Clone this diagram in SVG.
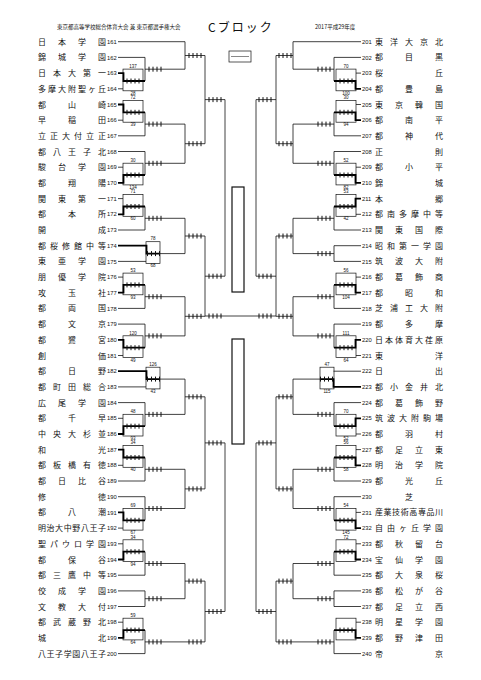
<svg xmlns="http://www.w3.org/2000/svg" xmlns:xlink="http://www.w3.org/1999/xlink" width="481" height="680" viewBox="0 0 481 680">
<style>
.t{font-family:"Noto Sans CJK JP","Noto Sans CJK SC",sans-serif;font-size:8px;text-anchor:middle;fill:#111}
.n{font-family:"Liberation Sans",sans-serif;font-size:5.8px;fill:#111}
.s{font-family:"Liberation Sans",sans-serif;font-size:4.5px;text-anchor:middle;fill:#111}
.h{font-family:"Noto Sans CJK JP",sans-serif;font-size:5.5px;fill:#111}
.l{fill:none;stroke:#111;stroke-width:0.8}
.w{fill:none;stroke:#000;stroke-width:1.8}
.b{fill:none;stroke:#111;stroke-width:0.7}
</style>
<defs>
<path id="k" d="M0-2.5v5M4-2.5v5M8-2.5v5M12-2.5v5" stroke="#111" stroke-width="1"/>
</defs>
<rect width="481" height="680" fill="#fff"/>
<g id="header">
<text class="h" x="57" y="29">東京都高等学校総合体育大会 兼 東京都選手権大会</text>
<text x="208" y="32" font-family="Noto Sans CJK JP,sans-serif" font-size="12" letter-spacing="2" fill="#111">Cブロック</text>
<text class="h" x="315" y="29">2017平成29年度</text>
</g>
<g id="legend">
<rect x="229" y="51" width="22" height="11" fill="none" stroke="#111" stroke-width="0.7"/>
<path d="M231 56.5H249" stroke="#111" stroke-width="0.5"/>
</g>
<g id="left-teams">
<g id="t161" transform="translate(0 41.7)"><text class="t" x="42 62 82 102" y="3">日本学園</text><text class="n" x="107" y="2.1">161</text></g>
<g id="t162" transform="translate(0 57.4)"><text class="t" x="42 62 82 102" y="3">錦城学園</text><text class="n" x="107" y="2.1">162</text></g>
<g id="t163" transform="translate(0 73.1)"><text class="t" x="42 57 72 87 102" y="3">日本大第一</text><text class="n" x="107" y="2.1">163</text></g>
<g id="t164" transform="translate(0 88.8)"><text class="t" x="42 52 62 72 82 92 102" y="3">多摩大附聖ヶ丘</text><text class="n" x="107" y="2.1">164</text></g>
<g id="t165" transform="translate(0 104.5)"><text class="t" x="42 72 102" y="3">都山崎</text><text class="n" x="107" y="2.1">165</text></g>
<g id="t166" transform="translate(0 120.2)"><text class="t" x="42 72 102" y="3">早稲田</text><text class="n" x="107" y="2.1">166</text></g>
<g id="t167" transform="translate(0 135.8)"><text class="t" x="42 54 66 78 90 102" y="3">立正大付立正</text><text class="n" x="107" y="2.1">167</text></g>
<g id="t168" transform="translate(0 151.5)"><text class="t" x="42 57 72 87 102" y="3">都八王子北</text><text class="n" x="107" y="2.1">168</text></g>
<g id="t169" transform="translate(0 167.2)"><text class="t" x="42 62 82 102" y="3">駿台学園</text><text class="n" x="107" y="2.1">169</text></g>
<g id="t170" transform="translate(0 182.9)"><text class="t" x="42 72 102" y="3">都翔陽</text><text class="n" x="107" y="2.1">170</text></g>
<g id="t171" transform="translate(0 198.6)"><text class="t" x="42 62 82 102" y="3">関東第一</text><text class="n" x="107" y="2.1">171</text></g>
<g id="t172" transform="translate(0 214.3)"><text class="t" x="42 72 102" y="3">都本所</text><text class="n" x="107" y="2.1">172</text></g>
<g id="t173" transform="translate(0 230)"><text class="t" x="42 102" y="3">開成</text><text class="n" x="107" y="2.1">173</text></g>
<g id="t174" transform="translate(0 245.7)"><text class="t" x="42 54 66 78 90 102" y="3">都桜修館中等</text><text class="n" x="107" y="2.1">174</text></g>
<g id="t175" transform="translate(0 261.4)"><text class="t" x="42 62 82 102" y="3">東亜学園</text><text class="n" x="107" y="2.1">175</text></g>
<g id="t176" transform="translate(0 277.1)"><text class="t" x="42 62 82 102" y="3">朋優学院</text><text class="n" x="107" y="2.1">176</text></g>
<g id="t177" transform="translate(0 292.7)"><text class="t" x="42 72 102" y="3">攻玉社</text><text class="n" x="107" y="2.1">177</text></g>
<g id="t178" transform="translate(0 308.4)"><text class="t" x="42 72 102" y="3">都両国</text><text class="n" x="107" y="2.1">178</text></g>
<g id="t179" transform="translate(0 324.1)"><text class="t" x="42 72 102" y="3">都文京</text><text class="n" x="107" y="2.1">179</text></g>
<g id="t180" transform="translate(0 339.8)"><text class="t" x="42 72 102" y="3">都鷺宮</text><text class="n" x="107" y="2.1">180</text></g>
<g id="t181" transform="translate(0 355.5)"><text class="t" x="42 102" y="3">創価</text><text class="n" x="107" y="2.1">181</text></g>
<g id="t182" transform="translate(0 371.2)"><text class="t" x="42 72 102" y="3">都日野</text><text class="n" x="107" y="2.1">182</text></g>
<g id="t183" transform="translate(0 386.9)"><text class="t" x="42 57 72 87 102" y="3">都町田総合</text><text class="n" x="107" y="2.1">183</text></g>
<g id="t184" transform="translate(0 402.6)"><text class="t" x="42 62 82 102" y="3">広尾学園</text><text class="n" x="107" y="2.1">184</text></g>
<g id="t185" transform="translate(0 418.3)"><text class="t" x="42 72 102" y="3">都千早</text><text class="n" x="107" y="2.1">185</text></g>
<g id="t186" transform="translate(0 434)"><text class="t" x="42 57 72 87 102" y="3">中央大杉並</text><text class="n" x="107" y="2.1">186</text></g>
<g id="t187" transform="translate(0 449.6)"><text class="t" x="42 102" y="3">和光</text><text class="n" x="107" y="2.1">187</text></g>
<g id="t188" transform="translate(0 465.3)"><text class="t" x="42 57 72 87 102" y="3">都板橋有徳</text><text class="n" x="107" y="2.1">188</text></g>
<g id="t189" transform="translate(0 481)"><text class="t" x="42 62 82 102" y="3">都日比谷</text><text class="n" x="107" y="2.1">189</text></g>
<g id="t190" transform="translate(0 496.7)"><text class="t" x="42 102" y="3">修徳</text><text class="n" x="107" y="2.1">190</text></g>
<g id="t191" transform="translate(0 512.4)"><text class="t" x="42 72 102" y="3">都八潮</text><text class="n" x="107" y="2.1">191</text></g>
<g id="t192" transform="translate(0 528.1)"><text class="t" x="42 50.6 59.1 67.7 76.3 84.9 93.4 102" y="3">明治大中野八王子</text><text class="n" x="107" y="2.1">192</text></g>
<g id="t193" transform="translate(0 543.8)"><text class="t" x="42 54 66 78 90 102" y="3">聖パウロ学園</text><text class="n" x="107" y="2.1">193</text></g>
<g id="t194" transform="translate(0 559.5)"><text class="t" x="42 72 102" y="3">都保谷</text><text class="n" x="107" y="2.1">194</text></g>
<g id="t195" transform="translate(0 575.2)"><text class="t" x="42 57 72 87 102" y="3">都三鷹中等</text><text class="n" x="107" y="2.1">195</text></g>
<g id="t196" transform="translate(0 590.9)"><text class="t" x="42 62 82 102" y="3">佼成学園</text><text class="n" x="107" y="2.1">196</text></g>
<g id="t197" transform="translate(0 606.5)"><text class="t" x="42 62 82 102" y="3">文教大付</text><text class="n" x="107" y="2.1">197</text></g>
<g id="t198" transform="translate(0 622.2)"><text class="t" x="42 57 72 87 102" y="3">都武蔵野北</text><text class="n" x="107" y="2.1">198</text></g>
<g id="t199" transform="translate(0 637.9)"><text class="t" x="42 102" y="3">城北</text><text class="n" x="107" y="2.1">199</text></g>
<g id="t200" transform="translate(0 653.6)"><text class="t" x="42 50.6 59.1 67.7 76.3 84.9 93.4 102" y="3">八王子学園八王子</text><text class="n" x="107" y="2.1">200</text></g>
</g>
<g id="right-teams">
<g id="t201" transform="translate(0 41.7)"><text class="n" x="362" y="2.1">201</text><text class="t" x="379 394 409 424 439" y="3">東洋大京北</text></g>
<g id="t202" transform="translate(0 57.4)"><text class="n" x="362" y="2.1">202</text><text class="t" x="379 409 439" y="3">都目黒</text></g>
<g id="t203" transform="translate(0 73.1)"><text class="n" x="362" y="2.1">203</text><text class="t" x="379 439" y="3">桜丘</text></g>
<g id="t204" transform="translate(0 88.8)"><text class="n" x="362" y="2.1">204</text><text class="t" x="379 409 439" y="3">都豊島</text></g>
<g id="t205" transform="translate(0 104.5)"><text class="n" x="362" y="2.1">205</text><text class="t" x="379 399 419 439" y="3">東京韓国</text></g>
<g id="t206" transform="translate(0 120.2)"><text class="n" x="362" y="2.1">206</text><text class="t" x="379 409 439" y="3">都南平</text></g>
<g id="t207" transform="translate(0 135.8)"><text class="n" x="362" y="2.1">207</text><text class="t" x="379 409 439" y="3">都神代</text></g>
<g id="t208" transform="translate(0 151.5)"><text class="n" x="362" y="2.1">208</text><text class="t" x="379 439" y="3">正則</text></g>
<g id="t209" transform="translate(0 167.2)"><text class="n" x="362" y="2.1">209</text><text class="t" x="379 409 439" y="3">都小平</text></g>
<g id="t210" transform="translate(0 182.9)"><text class="n" x="362" y="2.1">210</text><text class="t" x="379 439" y="3">錦城</text></g>
<g id="t211" transform="translate(0 198.6)"><text class="n" x="362" y="2.1">211</text><text class="t" x="379 439" y="3">本郷</text></g>
<g id="t212" transform="translate(0 214.3)"><text class="n" x="362" y="2.1">212</text><text class="t" x="379 391 403 415 427 439" y="3">都南多摩中等</text></g>
<g id="t213" transform="translate(0 230)"><text class="n" x="362" y="2.1">213</text><text class="t" x="379 399 419 439" y="3">関東国際</text></g>
<g id="t214" transform="translate(0 245.7)"><text class="n" x="362" y="2.1">214</text><text class="t" x="379 391 403 415 427 439" y="3">昭和第一学園</text></g>
<g id="t215" transform="translate(0 261.4)"><text class="n" x="362" y="2.1">215</text><text class="t" x="379 399 419 439" y="3">筑波大附</text></g>
<g id="t216" transform="translate(0 277.1)"><text class="n" x="362" y="2.1">216</text><text class="t" x="379 399 419 439" y="3">都葛飾商</text></g>
<g id="t217" transform="translate(0 292.7)"><text class="n" x="362" y="2.1">217</text><text class="t" x="379 409 439" y="3">都昭和</text></g>
<g id="t218" transform="translate(0 308.4)"><text class="n" x="362" y="2.1">218</text><text class="t" x="379 394 409 424 439" y="3">芝浦工大附</text></g>
<g id="t219" transform="translate(0 324.1)"><text class="n" x="362" y="2.1">219</text><text class="t" x="379 409 439" y="3">都多摩</text></g>
<g id="t220" transform="translate(0 339.8)"><text class="n" x="362" y="2.1">220</text><text class="t" x="379 389 399 409 419 429 439" y="3">日本体育大荏原</text></g>
<g id="t221" transform="translate(0 355.5)"><text class="n" x="362" y="2.1">221</text><text class="t" x="379 439" y="3">東洋</text></g>
<g id="t222" transform="translate(0 371.2)"><text class="n" x="362" y="2.1">222</text><text class="t" x="379 439" y="3">日出</text></g>
<g id="t223" transform="translate(0 386.9)"><text class="n" x="362" y="2.1">223</text><text class="t" x="379 394 409 424 439" y="3">都小金井北</text></g>
<g id="t224" transform="translate(0 402.6)"><text class="n" x="362" y="2.1">224</text><text class="t" x="379 399 419 439" y="3">都葛飾野</text></g>
<g id="t225" transform="translate(0 418.3)"><text class="n" x="362" y="2.1">225</text><text class="t" x="379 391 403 415 427 439" y="3">筑波大附駒場</text></g>
<g id="t226" transform="translate(0 434)"><text class="n" x="362" y="2.1">226</text><text class="t" x="379 409 439" y="3">都羽村</text></g>
<g id="t227" transform="translate(0 449.6)"><text class="n" x="362" y="2.1">227</text><text class="t" x="379 399 419 439" y="3">都足立東</text></g>
<g id="t228" transform="translate(0 465.3)"><text class="n" x="362" y="2.1">228</text><text class="t" x="379 399 419 439" y="3">明治学院</text></g>
<g id="t229" transform="translate(0 481)"><text class="n" x="362" y="2.1">229</text><text class="t" x="379 409 439" y="3">都光丘</text></g>
<g id="t230" transform="translate(0 496.7)"><text class="n" x="362" y="2.1">230</text><text class="t" x="409" y="3">芝</text></g>
<g id="t231" transform="translate(0 512.4)"><text class="n" x="362" y="2.1">231</text><text class="t" x="379 387.6 396.1 404.7 413.3 421.9 430.4 439" y="3">産業技術高専品川</text></g>
<g id="t232" transform="translate(0 528.1)"><text class="n" x="362" y="2.1">232</text><text class="t" x="379 391 403 415 427 439" y="3">自由ヶ丘学園</text></g>
<g id="t233" transform="translate(0 543.8)"><text class="n" x="362" y="2.1">233</text><text class="t" x="379 399 419 439" y="3">都秋留台</text></g>
<g id="t234" transform="translate(0 559.5)"><text class="n" x="362" y="2.1">234</text><text class="t" x="379 399 419 439" y="3">宝仙学園</text></g>
<g id="t235" transform="translate(0 575.2)"><text class="n" x="362" y="2.1">235</text><text class="t" x="379 399 419 439" y="3">都大泉桜</text></g>
<g id="t236" transform="translate(0 590.9)"><text class="n" x="362" y="2.1">236</text><text class="t" x="379 399 419 439" y="3">都松が谷</text></g>
<g id="t237" transform="translate(0 606.5)"><text class="n" x="362" y="2.1">237</text><text class="t" x="379 399 419 439" y="3">都足立西</text></g>
<g id="t238" transform="translate(0 622.2)"><text class="n" x="362" y="2.1">238</text><text class="t" x="379 399 419 439" y="3">明星学園</text></g>
<g id="t239" transform="translate(0 637.9)"><text class="n" x="362" y="2.1">239</text><text class="t" x="379 399 419 439" y="3">都野津田</text></g>
<g id="t240" transform="translate(0 653.6)"><text class="n" x="362" y="2.1">240</text><text class="t" x="379 439" y="3">帝京</text></g>
</g>
<g id="connectors">
<g id="left-lines" class="l">
<path d="M118 41.7H185M118 57.4H145M118 88.8H123M118 120.2H123M118 167.2H123M118 198.6H123M118 277.1H123M118 355.5H123M118 418.3H123M118 465.3H123M118 528.1H123M118 543.8H123M118 622.2H123"/>
<path d="M118 135.8H145M118 151.5H145M118 230H145M118 261.4H146M118 308.4H145M118 324.1H145M118 386.9H146M118 402.6H145M118 481H145M118 496.7H145M118 575.2H145M118 590.9H145M118 606.5H145M118 653.6H145"/>
<path d="M145 57.4V81M145 112.3V135.8M145 151.5V175M145 206.5V230M145 284.9V308.4M145 324.1V347.7M145 402.6V426.2M145 457.5V481M145 496.7V520.3M145 551.7V575.2M145 590.9V606.5M145 630.1V653.6"/>
<path d="M145 69.2H185M145 124.1H185M145 163.3H185M145 218.3H185M160 253.6H185M145 296.7H185M145 335.9H185M160 379.1H185M145 414.4H185M145 469.3H185M145 508.5H185M145 563.5H185M145 598.7H185M145 641.9H205"/>
<path d="M185 41.7V69.2M185 124.1V163.3M185 218.3V253.6M185 296.7V335.9M185 379.1V414.4M185 469.3V508.5M185 563.5V598.7"/>
<path d="M185 55.5H205M185 143.7H205M185 236H205M185 316.3H205M185 396.8H205M185 488.9H205M185 581.1H205"/>
<path d="M205 55.5V143.7M205 236V316.3M205 396.8V488.9M205 581.1V641.9M205 99.6H225M205 276.2H225M205 442.9H225M205 611.5H225M225 99.6V276.2M225 442.9V611.5"/>
</g>
<g id="right-lines" class="l">
<path d="M361 41.7H293M361 57.4H334M361 73.1H356M361 104.5H356M361 167.2H356M361 214.3H356M361 277.1H356M361 355.5H356M361 434H356M361 449.6H356M361 512.4H356M361 543.8H356M361 622.2H356"/>
<path d="M361 135.8H334M361 151.5H334M361 230H334M361 245.7H334M361 261.4H334M361 308.4H334M361 324.1H334M361 371.2H333.5M361 402.6H334M361 481H334M361 496.7H334M361 575.2H334M361 590.9H334M361 606.5H334M361 653.6H334"/>
<path d="M334 57.4V81M334 112.3V135.8M334 151.5V175M334 206.5V230M334 245.7V261.4M334 284.9V308.4M334 324.1V347.7M334 402.6V426.2M334 457.5V481M334 496.7V520.3M334 551.7V575.2M334 590.9V606.5M334 630.1V653.6"/>
<path d="M334 69.2H293M334 124.1H293M334 163.3H293M334 218.3H293M334 253.6H293M334 296.7H293M334 335.9H293M320 379.1H293M334 414.4H293M334 469.3H293M334 508.5H293M334 563.5H293M334 598.7H293M334 641.9H276"/>
<path d="M293 41.7V69.2M293 124.1V163.3M293 218.3V253.6M293 296.7V335.9M293 379.1V414.4M293 469.3V508.5M293 563.5V598.7"/>
<path d="M293 55.5H276M293 143.7H276M293 236H276M293 316.3H276M293 396.8H276M293 488.9H276M293 581.1H276"/>
<path d="M276 55.5V143.7M276 236V316.3M276 396.8V488.9M276 581.1V641.9M276 99.6H256M276 276.2H256M276 442.9H256M276 611.5H256M256 99.6V276.2M256 442.9V611.5"/>
</g>
<g id="boxes" class="b">
<rect x="123" y="69.1" width="20" height="21.7"/><rect x="123" y="100.5" width="20" height="21.7"/><rect x="123" y="163.2" width="20" height="21.7"/><rect x="123" y="194.6" width="20" height="21.7"/><rect x="123" y="273.1" width="20" height="21.7"/><rect x="123" y="335.8" width="20" height="21.7"/><rect x="123" y="414.3" width="20" height="21.7"/><rect x="123" y="445.6" width="20" height="21.7"/><rect x="123" y="508.4" width="20" height="21.7"/><rect x="123" y="539.8" width="20" height="21.7"/><rect x="123" y="618.2" width="20" height="21.7"/>
<rect x="146" y="241.7" width="14" height="21.7"/><rect x="146" y="367.2" width="14" height="21.7"/>
<rect x="336" y="69.1" width="20" height="21.7"/><rect x="336" y="100.5" width="20" height="21.7"/><rect x="336" y="163.2" width="20" height="21.7"/><rect x="336" y="194.6" width="20" height="21.7"/><rect x="336" y="273.1" width="20" height="21.7"/><rect x="336" y="335.8" width="20" height="21.7"/><rect x="336" y="414.3" width="20" height="21.7"/><rect x="336" y="445.6" width="20" height="21.7"/><rect x="336" y="508.4" width="20" height="21.7"/><rect x="336" y="539.8" width="20" height="21.7"/><rect x="336" y="618.2" width="20" height="21.7"/>
<rect x="320" y="367.2" width="14" height="21.7"/>
</g>
<g id="winners" class="w">
<path d="M118 73.1H123.5V81H145M118 104.5H123.5V112.3H145M118 182.9H123.5V175H145M118 214.3H123.5V206.5H145M118 292.7H123.5V284.9H145M118 339.8H123.5V347.7H145M118 434H123.5V426.2H145M118 449.6H123.5V457.5H145M118 512.4H123.5V520.3H145M118 559.5H123.5V551.7H145M118 637.9H123.5V630.1H145"/>
<path d="M118 245.7H146.5V253.6H160M118 371.2H146.5V379.1H160"/>
<path d="M361 88.8H355.5V81H334M361 120.2H355.5V112.3H334M361 182.9H355.5V175H334M361 198.6H355.5V206.5H334M361 292.7H355.5V284.9H334M361 339.8H355.5V347.7H334M361 418.3H355.5V426.2H334M361 465.3H355.5V457.5H334M361 528.1H355.5V520.3H334M361 559.5H355.5V551.7H334M361 637.9H355.5V630.1H334"/>
<path d="M361 386.9H333.5V379.1H320"/>
</g>
<g id="ticks">
<use href="#k" x="127" y="81"/><use href="#k" x="127" y="112.3"/><use href="#k" x="127" y="175"/><use href="#k" x="127" y="206.5"/><use href="#k" x="127" y="284.9"/><use href="#k" x="127" y="347.7"/><use href="#k" x="127" y="426.2"/><use href="#k" x="127" y="457.5"/><use href="#k" x="127" y="520.3"/><use href="#k" x="127" y="551.7"/><use href="#k" x="127" y="630.1"/>
<use href="#k" x="340" y="81"/><use href="#k" x="340" y="112.3"/><use href="#k" x="340" y="175"/><use href="#k" x="340" y="206.5"/><use href="#k" x="340" y="284.9"/><use href="#k" x="340" y="347.7"/><use href="#k" x="340" y="426.2"/><use href="#k" x="340" y="457.5"/><use href="#k" x="340" y="520.3"/><use href="#k" x="340" y="551.7"/><use href="#k" x="340" y="630.1"/>
<use href="#k" x="149" y="69.2"/><use href="#k" x="149" y="124.1"/><use href="#k" x="149" y="163.3"/><use href="#k" x="149" y="218.3"/><use href="#k" x="147.5" y="253.6"/><use href="#k" x="149" y="296.7"/><use href="#k" x="149" y="335.9"/><use href="#k" x="147.5" y="379.1"/><use href="#k" x="149" y="414.4"/><use href="#k" x="149" y="469.3"/><use href="#k" x="149" y="508.5"/><use href="#k" x="149" y="563.5"/><use href="#k" x="149" y="598.7"/><use href="#k" x="149" y="641.9"/>
<use href="#k" x="318" y="69.2"/><use href="#k" x="318" y="124.1"/><use href="#k" x="318" y="163.3"/><use href="#k" x="318" y="218.3"/><use href="#k" x="318" y="253.6"/><use href="#k" x="318" y="296.7"/><use href="#k" x="318" y="335.9"/><use href="#k" x="320.5" y="379.1"/><use href="#k" x="318" y="414.4"/><use href="#k" x="318" y="469.3"/><use href="#k" x="318" y="508.5"/><use href="#k" x="318" y="563.5"/><use href="#k" x="318" y="598.7"/><use href="#k" x="318" y="641.9"/>
<use href="#k" x="189" y="55.5"/><use href="#k" x="189" y="143.7"/><use href="#k" x="189" y="236"/><use href="#k" x="189" y="316.3"/><use href="#k" x="189" y="396.8"/><use href="#k" x="189" y="488.9"/><use href="#k" x="189" y="581.1"/><use href="#k" x="189" y="641.9"/>
<use href="#k" x="279" y="55.5"/><use href="#k" x="279" y="143.7"/><use href="#k" x="279" y="236"/><use href="#k" x="279" y="316.3"/><use href="#k" x="279" y="396.8"/><use href="#k" x="279" y="488.9"/><use href="#k" x="279" y="581.1"/><use href="#k" x="279" y="641.9"/>
<use href="#k" x="209" y="99.6"/><use href="#k" x="209" y="276.2"/><use href="#k" x="209" y="442.9"/><use href="#k" x="209" y="611.5"/>
<use href="#k" x="259" y="99.6"/><use href="#k" x="259" y="276.2"/><use href="#k" x="259" y="442.9"/><use href="#k" x="259" y="611.5"/>
<use href="#k" x="209" y="316"/><use href="#k" x="259" y="316"/>
</g>
<path class="l" d="M205 316H276"/>
</g>
<g id="scores">
<text class="s" x="133" y="67.8">137</text><text class="s" x="133" y="94.8">28</text>
<text class="s" x="133" y="99.2">72</text><text class="s" x="133" y="126.2">39</text>
<text class="s" x="133" y="161.9">30</text><text class="s" x="133" y="188.9">134</text>
<text class="s" x="133" y="193.3">71</text><text class="s" x="133" y="220.3">60</text>
<text class="s" x="133" y="271.8">53</text><text class="s" x="133" y="298.7">93</text>
<text class="s" x="133" y="334.5">120</text><text class="s" x="133" y="361.5">49</text>
<text class="s" x="133" y="413">48</text><text class="s" x="133" y="440">93</text>
<text class="s" x="133" y="444.3">34</text><text class="s" x="133" y="471.3">40</text>
<text class="s" x="133" y="507.1">69</text><text class="s" x="133" y="534.1">67</text>
<text class="s" x="133" y="538.5">34</text><text class="s" x="133" y="565.5">94</text>
<text class="s" x="133" y="616.9">59</text><text class="s" x="133" y="643.9">64</text>
<text class="s" x="153" y="240.4">78</text><text class="s" x="153" y="267.4">68</text>
<text class="s" x="153" y="365.9">126</text><text class="s" x="153" y="392.9">43</text>
<text class="s" x="346" y="67.8">70</text><text class="s" x="346" y="94.8">100</text>
<text class="s" x="346" y="99.2">30</text><text class="s" x="346" y="126.2">94</text>
<text class="s" x="346" y="161.9">52</text><text class="s" x="346" y="188.9">82</text>
<text class="s" x="346" y="193.3">53</text><text class="s" x="346" y="220.3">42</text>
<text class="s" x="346" y="271.8">56</text><text class="s" x="346" y="298.7">104</text>
<text class="s" x="346" y="334.5">111</text><text class="s" x="346" y="361.5">64</text>
<text class="s" x="346" y="413">70</text><text class="s" x="346" y="440">52</text>
<text class="s" x="346" y="444.3">56</text><text class="s" x="346" y="471.3">58</text>
<text class="s" x="346" y="507.1">54</text><text class="s" x="346" y="534.1">145</text>
<text class="s" x="346" y="538.5">72</text>
<text class="s" x="327" y="365.9">47</text><text class="s" x="327" y="392.9">115</text>
</g>
<g id="center">
<rect x="232" y="187" width="12" height="105" fill="none" stroke="#111" stroke-width="1.2"/>
<rect x="232" y="339" width="12" height="105" fill="none" stroke="#111" stroke-width="1.2"/>
</g>
</svg>
